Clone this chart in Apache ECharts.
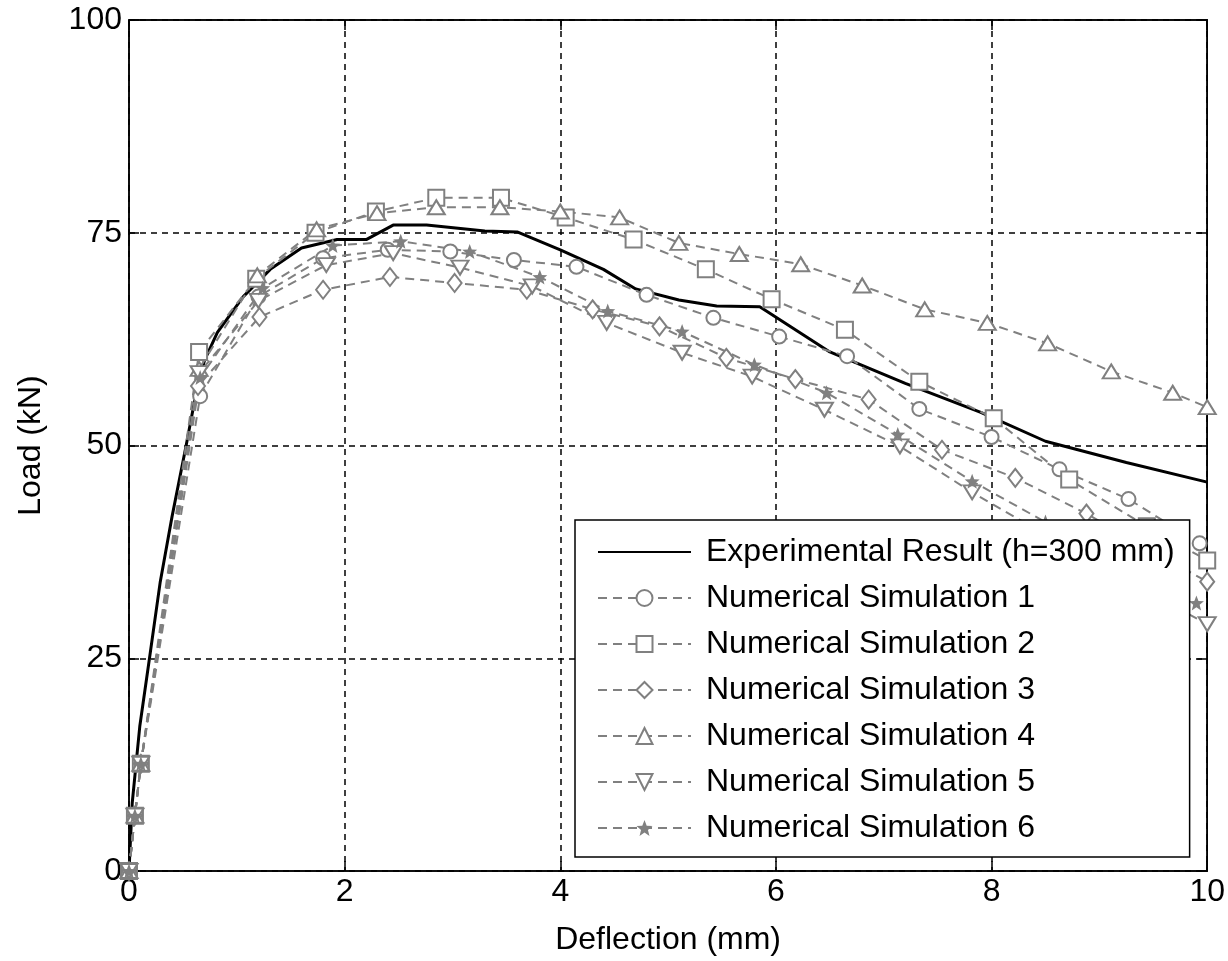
<!DOCTYPE html>
<html>
<head>
<meta charset="utf-8">
<script src="https://cdn.jsdelivr.net/npm/echarts@6/dist/echarts.min.js"></script>
<style>html,body{margin:0;padding:0;background:#fff;}#c{width:1228px;height:961px;}</style>
</head>
<body>
<div id="c"></div>
<script>
const xTicks = [0, 2, 4, 6, 8, 10];
const yTicks = [0, 25, 50, 75, 100];
const seriesNames = ['Experimental Result (h=300 mm)', 'Numerical Simulation 1', 'Numerical Simulation 2', 'Numerical Simulation 3', 'Numerical Simulation 4', 'Numerical Simulation 5', 'Numerical Simulation 6'];

const expX = [0, 0.03, 0.1, 0.19, 0.29, 0.4, 0.53, 0.62, 0.7, 0.82, 1.06, 1.31, 1.6, 1.93, 2.2, 2.45, 2.76, 3.3, 3.6, 4.0, 4.4, 4.7, 5.1, 5.45, 5.85, 6.5, 7.2, 7.9, 8.5, 9.25, 10];
const expY = [0, 8, 17, 25, 34, 41.7, 50, 56, 60, 63.3, 67.5, 70.7, 73.2, 74.2, 74.2, 75.9, 75.9, 75.2, 75.1, 73, 70.7, 68.4, 67.1, 66.4, 66.3, 61, 57.3, 53.9, 50.5, 48, 45.7];

const sim1X = [0, 0.055, 0.11, 0.66, 1.2, 1.8, 2.4, 2.98, 3.57, 4.15, 4.8, 5.42, 6.03, 6.66, 7.33, 8.0, 8.63, 9.27, 9.93];
const sim1Y = [0, 6.5, 12.6, 55.8, 67.5, 72, 73, 72.8, 71.8, 71, 67.7, 65, 62.8, 60.5, 54.3, 51, 47.2, 43.7, 38.5];

const sim2X = [0, 0.055, 0.11, 0.65, 1.18, 1.73, 2.29, 2.85, 3.45, 4.05, 4.68, 5.35, 5.96, 6.64, 7.33, 8.02, 8.72, 9.44, 10];
const sim2Y = [0, 6.5, 12.6, 61, 69.6, 75, 77.5, 79.1, 79.1, 76.8, 74.2, 70.7, 67.2, 63.6, 57.5, 53.2, 46, 40.5, 36.5];

const sim3X = [0, 0.055, 0.11, 0.64, 1.21, 1.8, 2.42, 3.02, 3.69, 4.3, 4.92, 5.54, 6.18, 6.86, 7.54, 8.22, 8.88, 9.5, 10];
const sim3Y = [0, 6.5, 12.6, 57, 65.1, 68.3, 69.8, 69.1, 68.3, 66, 64, 60.3, 57.8, 55.4, 49.5, 46.2, 42, 37.5, 34];

const sim4X = [0, 0.055, 0.11, 0.65, 1.19, 1.74, 2.3, 2.85, 3.44, 4.0, 4.55, 5.1, 5.66, 6.23, 6.8, 7.38, 7.96, 8.52, 9.11, 9.68, 10];
const sim4Y = [0, 6.5, 12.6, 59, 70, 75.4, 77.3, 78, 78, 77.5, 76.8, 73.8, 72.5, 71.3, 68.8, 66, 64.4, 62, 58.7, 56.2, 54.5];

const sim5X = [0, 0.055, 0.11, 0.65, 1.2, 1.83, 2.45, 3.07, 3.74, 4.43, 5.13, 5.78, 6.45, 7.15, 7.82, 8.5, 9.2, 10];
const sim5Y = [0, 6.5, 12.6, 58.5, 67, 71.2, 72.6, 70.9, 68.7, 64.4, 60.9, 58.1, 54.2, 49.9, 44.5, 39.5, 34.5, 29];

const sim6X = [0, 0.055, 0.11, 0.66, 1.24, 1.89, 2.52, 3.16, 3.81, 4.44, 5.13, 5.8, 6.47, 7.13, 7.82, 8.5, 9.2, 9.9];
const sim6Y = [0, 6.5, 12.6, 58, 68.5, 73.5, 74, 72.8, 69.8, 65.8, 63.4, 59.5, 56.2, 51.3, 45.8, 41, 36, 31.5];

const zip = (xs, ys) => xs.map((x, i) => [x, ys[i]]);

const GRAY = '#808080';
const FONT = 'Liberation Sans';
const STAR = 'path://M0,-10 L2.6,-3.4 L9.5,-3.1 L4.1,1.3 L5.9,8.1 L0,4.2 L-5.9,8.1 L-4.1,1.3 L-9.5,-3.1 L-2.6,-3.4 Z';

function simSeries(name, xs, ys, symbol, size, rotate, filled) {
  return {
    name: name,
    type: 'line',
    data: zip(xs, ys),
    symbol: symbol,
    symbolSize: size,
    symbolRotate: rotate || 0,
    showAllSymbol: true,
    color: GRAY,
    lineStyle: { color: GRAY, width: 2, type: [9, 6] },
    itemStyle: filled ? { color: GRAY } : { color: GRAY, borderColor: GRAY, borderWidth: 2 },
    z: 3
  };
}

const chart = echarts.init(document.getElementById('c'), null, { renderer: 'canvas' });
const axisLabelStyle = { color: '#000', fontFamily: FONT, fontSize: 32 };
chart.setOption({
  animation: false,
  backgroundColor: '#fff',
  grid: { left: 129, right: 20, top: 20, bottom: 89, show: true, borderColor: '#000', borderWidth: 1.5, backgroundColor: 'transparent' },
  xAxis: [{
    type: 'value', min: 0, max: 10, interval: 2, position: 'bottom',
    name: 'Deflection (mm)', nameLocation: 'middle', nameGap: 53,
    nameTextStyle: axisLabelStyle,
    axisLine: { show: true, onZero: false, lineStyle: { color: '#000', width: 1.5 } },
    axisTick: { show: true, inside: true, length: 10, lineStyle: { color: '#000', width: 1.5 } },
    axisLabel: Object.assign({ margin: 5, formatter: v => xTicks.includes(v) ? String(v) : '' }, axisLabelStyle),
    splitLine: { show: true, lineStyle: { color: '#000', width: 1.5, type: [6, 5] } }
  }, {
    type: 'value', min: 0, max: 10, interval: 2, position: 'top',
    axisLine: { show: true, onZero: false, lineStyle: { color: '#000', width: 1.5 } },
    axisTick: { show: true, inside: true, length: 10, lineStyle: { color: '#000', width: 1.5 } },
    axisLabel: { show: false }, splitLine: { show: false }
  }],
  yAxis: [{
    type: 'value', min: 0, max: 100, interval: 25, position: 'left',
    name: 'Load (kN)', nameLocation: 'middle', nameGap: 82, nameRotate: 90,
    nameTextStyle: axisLabelStyle,
    axisLine: { show: true, onZero: false, lineStyle: { color: '#000', width: 1.5 } },
    axisTick: { show: true, inside: true, length: 10, lineStyle: { color: '#000', width: 1.5 } },
    axisLabel: Object.assign({ margin: 7, formatter: v => yTicks.includes(v) ? String(v) : '' }, axisLabelStyle),
    splitLine: { show: true, lineStyle: { color: '#000', width: 1.5, type: [6, 5] } }
  }, {
    type: 'value', min: 0, max: 100, interval: 25, position: 'right',
    axisLine: { show: true, onZero: false, lineStyle: { color: '#000', width: 1.5 } },
    axisTick: { show: true, inside: true, length: 10, lineStyle: { color: '#000', width: 1.5 } },
    axisLabel: { show: false }, splitLine: { show: false }
  }],
  legend: {
    orient: 'vertical', left: 575, top: 520,
    padding: [16, 15, 13, 22],
    itemWidth: 93, itemHeight: 20, itemGap: 14,
    backgroundColor: '#fff', borderColor: '#000', borderWidth: 1.5,
    textStyle: { color: '#000', fontFamily: FONT, fontSize: 32, lineHeight: 32, padding: [0, 0, 0, 10] },
    data: [
      { name: seriesNames[0], itemStyle: { opacity: 0 } },
      seriesNames[1], seriesNames[2], seriesNames[3], seriesNames[4], seriesNames[5], seriesNames[6]
    ],
    selectedMode: false,
    z: 10
  },
  series: [
    {
      name: seriesNames[0], type: 'line', data: zip(expX, expY),
      symbol: 'none', color: '#000',
      lineStyle: { color: '#000', width: 3, type: 'solid' }, z: 2
    },
    simSeries(seriesNames[1], sim1X, sim1Y, 'emptyCircle', 14),
    simSeries(seriesNames[2], sim2X, sim2Y, 'emptyRect', 16),
    simSeries(seriesNames[3], sim3X, sim3Y, 'emptyDiamond', [14, 18]),
    simSeries(seriesNames[4], sim4X, sim4Y, 'emptyTriangle', [17, 14]),
    simSeries(seriesNames[5], sim5X, sim5Y, 'emptyTriangle', [17, 14], 180),
    simSeries(seriesNames[6], sim6X, sim6Y, STAR, 15, 0, true)
  ]
});
</script>
</body>
</html>
